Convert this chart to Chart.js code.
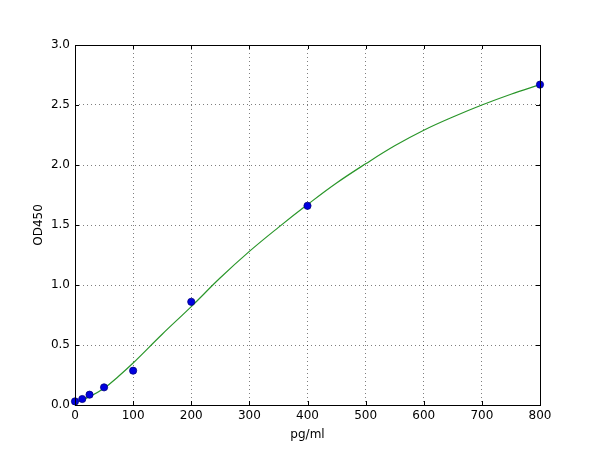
<!DOCTYPE html>
<html>
<head>
<meta charset="utf-8">
<script src="https://cdn.jsdelivr.net/npm/chart.js@4"></script>
<style>
  html, body { margin: 0; padding: 0; background: #fff; }
  #wrap { width: 600px; height: 450px; }
</style>
</head>
<body>
<div id="wrap"><canvas id="c" width="600" height="450"></canvas></div>
<script>
'use strict';
// standards (measured points)
const stdConc = [0, 12.5, 25, 50, 100, 200, 400, 800];
const stdOD   = [0.03, 0.05, 0.086, 0.147, 0.286, 0.86, 1.66, 2.67];

// fitted curve
const fitConc = [0, 25, 50, 75, 100, 150, 200, 250, 300, 350, 400, 450, 500, 550, 600, 650, 700, 750, 800];
const fitOD   = [0.02, 0.07, 0.14, 0.24, 0.35, 0.59, 0.82, 1.06, 1.28, 1.48, 1.67, 1.85, 2.01, 2.16, 2.29, 2.40, 2.50, 2.59, 2.67];

const xTicks = [0, 100, 200, 300, 400, 500, 600, 700, 800];
const yTicks = [0, 0.5, 1.0, 1.5, 2.0, 2.5, 3.0];

const FONT = 'DejaVu Sans';
Chart.defaults.font.family = FONT;
Chart.defaults.color = '#000';

// ─── Frame + inward ticks on all four sides (matplotlib classic look) ────────
const framePlugin = {
  id: 'frame',
  afterDatasetsDraw(chart) {
    const {ctx, chartArea: a, scales: {x, y}} = chart;
    ctx.save();
    ctx.strokeStyle = '#000';
    ctx.lineWidth = 1;
    ctx.beginPath();
    const L = 4;
    xTicks.forEach(v => {
      const px = Math.round(x.getPixelForValue(v)) + 0.5;
      ctx.moveTo(px, a.bottom); ctx.lineTo(px, a.bottom - L);
      ctx.moveTo(px, a.top); ctx.lineTo(px, a.top + L);
    });
    yTicks.forEach(v => {
      const py = Math.round(y.getPixelForValue(v)) + 0.5;
      ctx.moveTo(a.left, py); ctx.lineTo(a.left + L, py);
      ctx.moveTo(a.right, py); ctx.lineTo(a.right - L, py);
    });
    ctx.stroke();
    ctx.strokeRect(Math.round(a.left) + 0.5, Math.round(a.top) + 0.5,
                   Math.round(a.right - a.left), Math.round(a.bottom - a.top));
    ctx.restore();
  }
};

const grid = {
  drawTicks: false,
  color: 'rgba(0,0,0,0.5)',
  lineWidth: 1
};

new Chart(document.getElementById('c'), {
  type: 'scatter',
  data: {
    datasets: [
      {
        data: fitConc.map((v, i) => ({x: v, y: fitOD[i]})),
        showLine: true,
        borderColor: '#2a962a',
        borderWidth: 1.2,
        pointRadius: 0,
        tension: 0.4,
        order: 2
      },
      {
        data: stdConc.map((v, i) => ({x: v, y: stdOD[i]})),
        showLine: false,
        pointRadius: 3.6,
        backgroundColor: '#0000e0',
        borderColor: '#000080',
        borderWidth: 0.8,
        order: 1
      }
    ]
  },
  options: {
    responsive: false,
    animation: false,
    clip: false,
    layout: {padding: {left: 0, right: 60, top: 45, bottom: 0}},
    plugins: {legend: {display: false}, tooltip: {enabled: false}},
    scales: {
      x: {
        type: 'linear', min: 0, max: 800,
        afterBuildTicks: s => { s.ticks = xTicks.map(v => ({value: v})); },
        afterFit: s => { s.height = 45; },
        ticks: {font: {size: 12}, padding: 4, callback: v => String(v)},
        grid,
        border: {display: false, dash: [1, 3]},
        title: {display: true, text: 'pg/ml', font: {size: 12}, padding: {top: 2, bottom: 8}}
      },
      y: {
        type: 'linear', min: 0, max: 3,
        afterBuildTicks: s => { s.ticks = yTicks.map(v => ({value: v})); },
        afterFit: s => { s.width = 75; },
        ticks: {font: {size: 12}, padding: 5, callback: v => Number(v).toFixed(1)},
        grid,
        border: {display: false, dash: [1, 3]},
        title: {display: true, text: 'OD450', font: {size: 12}, padding: {top: 32, bottom: 0}}
      }
    }
  },
  plugins: [framePlugin]
});
</script>
</body>
</html>
